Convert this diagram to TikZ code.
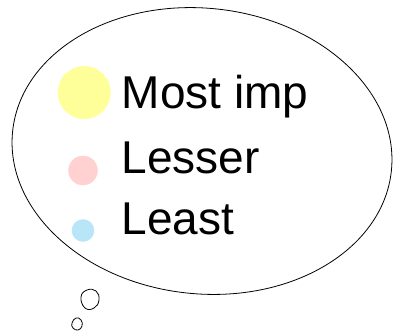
\documentclass[tikz,border=0pt]{standalone}
\usepackage{fontspec}
\setmainfont{Liberation Sans}
\definecolor{dotyellow}{HTML}{FFFF99}
\definecolor{dotpink}{HTML}{FFD1D1}
\definecolor{dotblue}{HTML}{B8E6F8}
\tikzset{
  bubbleline/.style={draw=black, line width=0.8pt},
  dot/.style={circle, inner sep=0pt, draw=none},
  label/.style={anchor=base west, inner sep=0pt, font=\fontsize{46}{55}\selectfont}
}
\begin{document}
\begin{tikzpicture}[x=1pt,y=-1pt]
\useasboundingbox (0,0) rectangle (393,333);
% thought bubble
\draw[bubbleline, rotate around={-6:(202,151)}] (202,151) ellipse [x radius=190.4, y radius=142.8];
% trailing small bubbles
\draw[bubbleline] plot[smooth cycle, tension=0.8] coordinates {
  (81,297) (87,290) (96,291) (99,300) (94,308) (85,308)};
\draw[bubbleline] plot[smooth cycle, tension=0.8] coordinates {
  (72,323) (76,318) (81,320) (82,326) (78,330) (73,328)};
% dots
\node[dot, fill=dotyellow, minimum size=53pt] (d1) at (84.2,92.5) {};
\node[dot, fill=dotpink, minimum size=29.5pt] (d2) at (83,170.5) {};
\node[dot, fill=dotblue, minimum size=22.6pt] (d3) at (83,230.5) {};
% labels
\node[label] (t1) at (121.5,108) {Most imp};
\node[label] (t2) at (121.5,173.5) {Lesser};
\node[label] (t3) at (121.5,234.5) {Least};
\end{tikzpicture}
\end{document}
